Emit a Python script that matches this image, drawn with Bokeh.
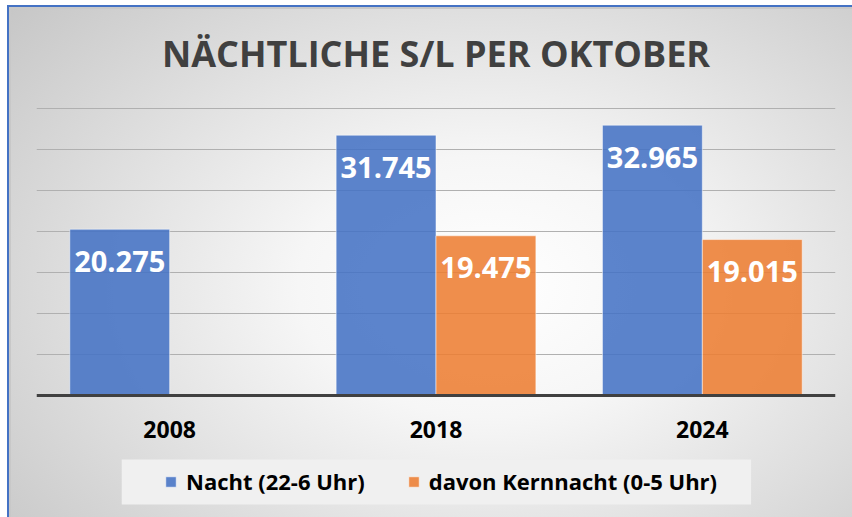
from bokeh.plotting import figure
from bokeh.models import (ColumnDataSource, LabelSet, Label, Legend, LegendItem,
                          Range1d, FactorRange, FixedTicker, Span, BoxAnnotation)
from bokeh.core.properties import value
from bokeh.transform import dodge
from bokeh.embed import file_html
from bokeh.resources import INLINE

# ---- data ----
title_text = "NÄCHTLICHE S/L PER OKTOBER"
years = ["2008", "2018", "2024"]
nacht = [20275, 31745, 32965]          # Nacht (22-6 Uhr)
kern = [None, 19475, 19015]            # davon Kernnacht (0-5 Uhr)
series_names = ["Nacht (22-6 Uhr)", "davon Kernnacht (0-5 Uhr)"]
grid_max = 35000
grid_step = 5000

def fmt(v):
    return f"{v:,}".replace(",", ".")

def make_source(vals):
    xs, ys, ts = [], [], []
    for yr, v in zip(years, vals):
        if v is not None:
            xs.append(yr); ys.append(v); ts.append(fmt(v))
    return ColumnDataSource(dict(year=xs, value=ys, label=ts))

src_n = make_source(nacht)
src_k = make_source(kern)
src_cat = ColumnDataSource(dict(year=years))

FONT = "Open Sans"
BLUE = "#4472C4"
ORANGE = "#ED7D31"

# layout: frame covers full height; value 0 sits 390px from top, 287px per 35000
PX_PER_UNIT = 287 / 35000
FIG_W, FIG_H = 845, 512
BASE_PX = 390
y_lo = -(FIG_H - BASE_PX) / PX_PER_UNIT
y_hi = BASE_PX / PX_PER_UNIT

p = figure(width=FIG_W, height=FIG_H,
           output_backend="svg", toolbar_location=None,
           x_range=FactorRange(factors=years), y_range=Range1d(y_lo, y_hi),
           min_border_left=29, min_border_right=17, min_border_top=0,
           min_border_bottom=0)

p.styles = {
    "margin-left": "7px",
    "margin-top": "5px",
    "background": "radial-gradient(ellipse 75% 85% at 57% 55%, #ffffff 0%, #f6f6f6 30%, #c6c6c6 100%)",
    "box-shadow": "inset 2px 2px 0 #4472C4, inset 4px 4px 0 #c8c8c8",
}
p.border_fill_alpha = 0
p.background_fill_alpha = 0
p.outline_line_color = None
p.xaxis.visible = False
p.yaxis.visible = False
p.xgrid.visible = False
p.ygrid.ticker = FixedTicker(ticks=list(range(grid_step, grid_max + 1, grid_step)))
p.ygrid.grid_line_color = "#b0b0b0"
p.ygrid.grid_line_width = 1

bw = 0.375
r1 = p.vbar(x=dodge("year", -bw / 2, range=p.x_range), top="value", width=bw,
            source=src_n, fill_color=BLUE, fill_alpha=0.87,
            line_color="white", line_alpha=0.5, line_width=1)
r2 = p.vbar(x=dodge("year", bw / 2, range=p.x_range), top="value", width=bw,
            source=src_k, fill_color=ORANGE, fill_alpha=0.87,
            line_color="white", line_alpha=0.5, line_width=1)

# baseline
p.add_layout(Span(location=0, dimension="width", line_color="#404040", line_width=3))

# value labels
for src, off in ((src_n, -bw / 2), (src_k, bw / 2)):
    p.add_layout(LabelSet(x=dodge("year", off, range=p.x_range), y="value",
                          text="label", source=src, y_offset=-32,
                          text_align="center", text_baseline="middle",
                          text_color="white", text_font=value(FONT),
                          text_font_style="bold", text_font_size="29px"))

# category labels
p.add_layout(LabelSet(x="year", y=0, text="year", source=src_cat, y_offset=-34,
                      text_align="center", text_baseline="middle",
                      text_color="black", text_font=value(FONT),
                      text_font_style="bold", text_font_size="23px"))

# title
p.add_layout(Label(x=len(years) / 2, y=(BASE_PX - 47.5) / PX_PER_UNIT,
                   text=title_text, text_align="center", text_baseline="middle",
                   text_font=FONT, text_font_size="36px", text_font_style="bold",
                   text_color="#404040"))

# legend band
p.add_layout(BoxAnnotation(left=0.32, right=2.683,
                           top=-(454 - BASE_PX) / PX_PER_UNIT,
                           bottom=-(499 - BASE_PX) / PX_PER_UNIT,
                           fill_color="#f0f0f0", fill_alpha=1, line_color=None,
                           level="underlay"))

legend = Legend(items=[LegendItem(label=series_names[0], renderers=[r1]),
                       LegendItem(label=series_names[1], renderers=[r2])],
                orientation="horizontal", location=(128, 21),
                background_fill_alpha=0,
                border_line_color=None, label_text_font=FONT,
                label_text_font_style="bold", label_text_font_size="22px",
                label_text_color="black", glyph_width=13, glyph_height=13,
                spacing=42, label_standoff=9, padding=12, margin=0)
p.add_layout(legend, "center")

open("out.html", "w").write(file_html(p, INLINE))
